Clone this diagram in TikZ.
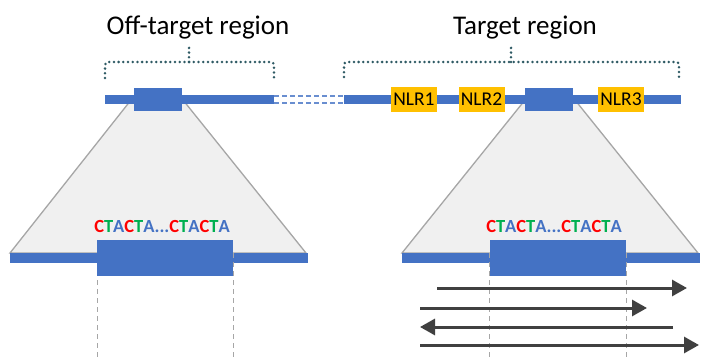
\documentclass[tikz,border=0pt]{standalone}
\usepackage{fontspec}
\setmainfont{Carlito}
\usetikzlibrary{arrows.meta}
\definecolor{chrblue}{HTML}{4472C4}
\definecolor{nlrgold}{HTML}{FFC000}
\definecolor{basered}{HTML}{FF0000}
\definecolor{basegreen}{HTML}{00B050}
\definecolor{bracecol}{HTML}{2E5A64}
\definecolor{readgray}{HTML}{404040}
\newcommand{\cta}{\textcolor{basered}{C}\textcolor{basegreen}{T}\textcolor{chrblue}{A}}
\newcommand{\repeatseq}{\cta\cta\textcolor{chrblue}{...}\cta\cta}

\begin{document}
\begin{tikzpicture}[x=1pt, y=-1pt,
  chrline/.style={fill=chrblue},
  block/.style={fill=chrblue, inner sep=0pt, minimum width=48pt, minimum height=23pt},
  bigblock/.style={fill=chrblue, inner sep=0pt, minimum width=136pt, minimum height=36pt},
  nlr/.style={fill=nlrgold, inner sep=0pt, minimum width=46pt, minimum height=25pt, font=\fontsize{19.5}{21}\selectfont},
  zoomcone/.style={fill=black!6, draw=black!35, line width=1.3pt},
  brace/.style={draw=bracecol, line width=2.8pt, line cap=round, dash pattern=on 0pt off 4.7pt, rounded corners=3pt},
  gap/.style={draw=chrblue!80, line width=1.2pt, dash pattern=on 5pt off 3pt},
  guide/.style={draw=black!35, line width=1pt, dash pattern=on 5pt off 4pt},
  read/.style={draw=readgray, line width=3pt, -{Triangle[length=15pt, width=16pt]}},
  seq/.style={font=\fontsize{18.5}{20}\selectfont\bfseries},
  title/.style={font=\fontsize{27}{30}\selectfont, anchor=base}]
  \useasboundingbox (0,0) rectangle (705,361);

  % Zoom cones
  \draw[zoomcone] (131,100) -- (183,100) -- (306,253) -- (10,253) -- cycle;
  \draw[zoomcone] (525,100) -- (575,100) -- (698,253) -- (402,253) -- cycle;

  % Chromosome
  \fill[chrline] (105,95) rectangle (274,104);
  \draw[gap] (274,96) -- (344,96);
  \draw[gap] (274,103) -- (344,103);
  \fill[chrline] (344,95) rectangle (681,104);

  % Loci
  \node[block] (offblock) at (158,99.5) {};
  \node[block] (tarblock) at (549,99.5) {};
  \node[nlr] (nlr1) at (414,99.5) {NLR1};
  \node[nlr] (nlr2) at (481.5,99.5) {NLR2};
  \node[nlr] (nlr3) at (621,99.5) {NLR3};

  % Braces and titles
  \draw[brace] (105,78) -- (105,62) -- (274,62) -- (274,78);
  \draw[brace] (189,62) -- (189,47);
  \draw[brace] (344,77) -- (344,62) -- (679,62) -- (679,77);
  \draw[brace] (511,62) -- (511,47);
  \node[title] (offtitle) at (198,35) {Off-target region};
  \node[title] (tartitle) at (525,35) {Target region};

  % Zoomed repeats
  \fill[chrline] (10,253) rectangle (308,263);
  \fill[chrline] (402,253) rectangle (700,263);
  \draw[guide] (97,253) -- (97,361);
  \draw[guide] (233,253) -- (233,361);
  \draw[guide] (489,253) -- (489,361);
  \draw[guide] (626,253) -- (626,361);
  \node[bigblock] (offrep) at (165,258) {};
  \node[bigblock] (tarrep) at (558,258) {};
  \node[seq, anchor=base] (offseq) at (162,232) {\repeatseq};
  \node[seq, anchor=base] (tarseq) at (554,232) {\repeatseq};

  % Reads
  \draw[read] (437,288) -- (687,288);
  \draw[read] (420,308) -- (647,308);
  \draw[read] (673,327) -- (420,327);
  \draw[read] (420,345) -- (699,345);
\end{tikzpicture}
\end{document}
